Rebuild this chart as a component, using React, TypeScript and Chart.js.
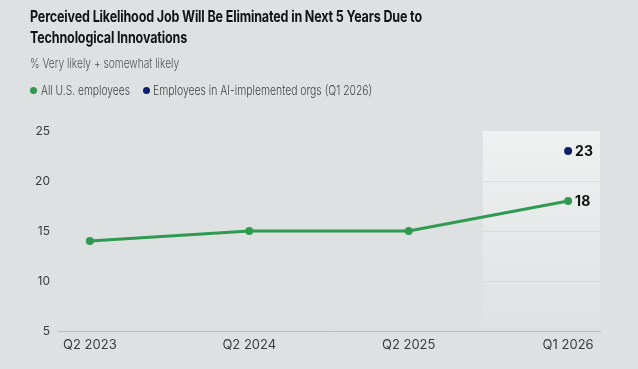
import React, { useEffect, useRef } from "react";
import { Chart, registerables } from "chart.js";

Chart.register(...registerables);

const categories = ["Q2 2023", "Q2 2024", "Q2 2025", "Q1 2026"];
const allEmployees = [14, 15, 15, 18];
const aiOrgEmployees: (number | null)[] = [null, null, null, 23];
const yTicks = [5, 10, 15, 20, 25];
const seriesNames = ["All U.S. employees", "Employees in AI-implemented orgs (Q1 2026)"];
const titleLines = [
  "Perceived Likelihood Job Will Be Eliminated in Next 5 Years Due to",
  "Technological Innovations",
];
const subtitle = "% Very likely + somewhat likely";

const GREEN = "#2f9a50";
const NAVY = "#0c1f6b";
const BG = "#dde1e1";

const highlightPlugin = {
  id: "highlight",
  beforeDatasetsDraw(chart: any) {
    const { ctx, chartArea, scales } = chart;
    const x = scales.x;
    const y = scales.y;
    const left = x.getPixelForValue(2.465);
    const right = chartArea.right;
    const top = y.getPixelForValue(25);
    const bottom = y.getPixelForValue(5.4);
    ctx.save();
    const g = ctx.createLinearGradient(0, top, 0, bottom);
    g.addColorStop(0, "rgba(255,255,255,0.55)");
    g.addColorStop(1, "rgba(255,255,255,0.06)");
    ctx.fillStyle = g;
    ctx.fillRect(left, top, right - left, bottom - top);
    ctx.strokeStyle = "rgba(205,210,210,0.5)";
    ctx.lineWidth = 1;
    [20, 15, 10].forEach((v) => {
      const py = Math.round(y.getPixelForValue(v)) + 0.5;
      ctx.beginPath();
      ctx.moveTo(left, py);
      ctx.lineTo(right, py);
      ctx.stroke();
    });
    ctx.restore();
  },
  afterDatasetsDraw(chart: any) {
    const { ctx } = chart;
    ctx.save();
    ctx.font = "bold 14px Inter";
    ctx.fillStyle = "#111";
    ctx.textBaseline = "middle";
    ctx.textAlign = "left";
    chart.data.datasets.forEach((ds: any, di: number) => {
      const meta = chart.getDatasetMeta(di);
      const last = ds.data.length - 1;
      const pt = meta.data[last];
      if (!pt || ds.data[last].y == null) return;
      ctx.fillText(String(ds.data[last].y), pt.x + 7, pt.y + 1);
    });
    ctx.restore();
  },
};

function App() {
  const ref = useRef<HTMLCanvasElement>(null);
  useEffect(() => {
    document.body.style.margin = "0";
    Chart.defaults.font.family = "Inter";
    const chart = new Chart(ref.current!, {
      type: "line",
      data: {
        datasets: [
          {
            label: seriesNames[0],
            data: allEmployees.map((v, i) => ({ x: i, y: v })),
            borderColor: GREEN,
            backgroundColor: GREEN,
            borderWidth: 3,
            pointRadius: 4,
            pointBorderWidth: 0,
            pointBackgroundColor: GREEN,
            tension: 0,
          },
          {
            label: seriesNames[1],
            data: aiOrgEmployees.map((v, i) => ({ x: i, y: v })),
            borderColor: NAVY,
            backgroundColor: NAVY,
            borderWidth: 3,
            pointRadius: 4,
            pointBorderWidth: 0,
            pointBackgroundColor: NAVY,
            showLine: false,
          },
        ],
      },
      options: {
        animation: false,
        responsive: false,
        maintainAspectRatio: false,
        layout: { padding: { top: 131, right: 38, bottom: 0, left: 0 } },
        plugins: { legend: { display: false }, tooltip: { enabled: false } },
        scales: {
          x: {
            type: "linear",
            min: -0.2,
            max: 3.2,
            afterBuildTicks: (s: any) => {
              s.ticks = categories.map((_, i) => ({ value: i }));
            },
            afterFit: (s: any) => {
              s.height = 38;
            },
            ticks: {
              callback: (v: any) => categories[v as number],
              color: "#3a3d3d",
              font: { size: 13 },
              padding: 6,
              maxRotation: 0,
            },
            grid: { display: false, drawTicks: false },
            border: { display: true, color: "#b9bdbd", width: 1 },
          },
          y: {
            min: 5,
            max: 25,
            afterBuildTicks: (s: any) => {
              s.ticks = yTicks.map((v) => ({ value: v }));
            },
            afterFit: (s: any) => {
              s.width = 58;
            },
            ticks: { color: "#3a3d3d", font: { size: 12 }, padding: 8 },
            grid: { display: false, drawTicks: false },
            border: { display: false },
          },
        },
      },
      plugins: [highlightPlugin],
    });
    return () => chart.destroy();
  }, []);

  const dot = (c: string, cx: number) => (
    <span
      style={{
        position: "absolute",
        left: cx - 3.5,
        top: 86.5,
        width: 7,
        height: 7,
        borderRadius: "50%",
        background: c,
      }}
    />
  );

  const squeezed = (extra: React.CSSProperties, k: number, content: React.ReactNode) => (
    <div
      style={{
        position: "absolute",
        whiteSpace: "nowrap",
        transform: `scaleX(${k})`,
        transformOrigin: "left top",
        ...extra,
      }}
    >
      {content}
    </div>
  );

  return (
    <div
      style={{
        position: "absolute",
        left: 0,
        top: 0,
        width: 638,
        height: 369,
        background: BG,
        fontFamily: "Inter, sans-serif",
        overflow: "hidden",
      }}
    >
      <canvas ref={ref} width={638} height={369} style={{ position: "absolute", left: 0, top: 0 }} />
      {squeezed(
        { left: 30, top: 6, color: "#121414", fontWeight: 700, fontSize: 15.5, lineHeight: "21px", letterSpacing: -0.2 },
        0.81,
        titleLines.map((l) => <div key={l}>{l}</div>)
      )}
      {squeezed(
        { left: 30, top: 55, color: "#505454", fontSize: 13, fontWeight: 300 },
        0.785,
        subtitle
      )}
      {dot(GREEN, 33.5)}
      {squeezed({ left: 41, top: 82, color: "#404444", fontSize: 13.5, fontWeight: 300 }, 0.76, seriesNames[0])}
      {dot(NAVY, 146.5)}
      {squeezed({ left: 153, top: 82, color: "#404444", fontSize: 13.5, fontWeight: 300 }, 0.77, seriesNames[1])}
    </div>
  );
}

export default App;
